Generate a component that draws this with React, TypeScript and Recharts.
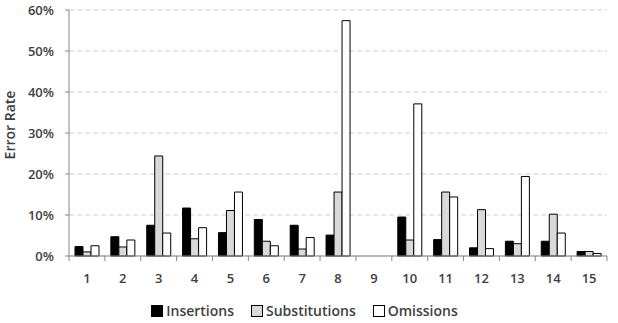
import { Bar, BarChart, CartesianGrid, Legend, XAxis, YAxis, Label } from "recharts"

const categories = ["1", "2", "3", "4", "5", "6", "7", "8", "9", "10", "11", "12", "13", "14", "15"]
const insertions = [2.3, 4.7, 7.5, 11.7, 5.7, 8.9, 7.5, 5.1, 0, 9.5, 4.0, 2.0, 3.6, 3.6, 1.1]
const substitutions = [1.0, 2.2, 24.4, 4.2, 11.1, 3.6, 1.7, 15.6, 0, 3.9, 15.6, 11.3, 3.0, 10.2, 1.1]
const omissions = [2.5, 3.9, 5.6, 6.9, 15.6, 2.5, 4.5, 57.4, 0, 37.1, 14.4, 1.8, 19.4, 5.6, 0.6]
const yTicks = [0, 10, 20, 30, 40, 50, 60]

const data = categories.map((name, i) => ({
  name,
  Insertions: insertions[i],
  Substitutions: substitutions[i],
  Omissions: omissions[i],
}))

const W = 618
const H = 323
const LEFT = 69
const RIGHT = 11
const band = (W - LEFT - RIGHT) / categories.length
const font = "'Open Sans', sans-serif"
const textColor = "#404040"
const axisColor = "#868686"

const XTick = (props: any) => {
  const { x, y, payload, index } = props
  const left = x - band / 2
  return (
    <g>
      <line x1={left} x2={left} y1={y} y2={y + 5} stroke={axisColor} />
      {index === categories.length - 1 && (
        <line x1={x + band / 2} x2={x + band / 2} y1={y} y2={y + 5} stroke={axisColor} />
      )}
      <text x={x} y={y + 27} textAnchor="middle" fontSize={13} fontWeight={600} fill={textColor} fontFamily={font}>
        {payload.value}
      </text>
    </g>
  )
}

const LegendContent = (props: any) => {
  const items = [
    { label: "Insertions", fill: "#000000" },
    { label: "Substitutions", fill: "#d9d9d9" },
    { label: "Omissions", fill: "#ffffff" },
  ]
  return (
    <div style={{ display: "flex", justifyContent: "center", gap: 17, fontFamily: font, fontSize: 14, color: textColor, fontWeight: 600, paddingLeft: 2 }}>
      {items.map((it) => (
        <div key={it.label} style={{ display: "flex", alignItems: "center" }}>
          <span style={{ width: 10, height: 10, background: it.fill, border: "1px solid #000", marginRight: 3, display: "inline-block" }} />
          <span>{it.label}</span>
        </div>
      ))}
    </div>
  )
}

export default function App() {
  return (
    <div style={{ width: W, height: H, background: "#fff" }}>
      <style>{"body{margin:0}"}</style>
      <BarChart width={W} height={H} data={data} margin={{ top: 10, right: RIGHT, left: 0, bottom: 0 }} barGap={0} barCategoryGap="16.7%">
        <CartesianGrid vertical={false} stroke="#cfcfcf" strokeDasharray="5 3" />
        <XAxis dataKey="name" stroke={axisColor} height={45} tickSize={0} tickMargin={0} tick={<XTick />} interval={0} />
        <YAxis
          width={LEFT}
          domain={[0, 60]}
          ticks={yTicks}
          stroke={axisColor}
          tickSize={4}
          tickMargin={11}
          tickFormatter={(v) => `${v}%`}
          tick={{ fontSize: 13, fontWeight: 600, fill: textColor, fontFamily: font }}
        >
          <Label
            content={(p: any) => {
              const cy = p.viewBox.y + p.viewBox.height / 2 - 8
              return (
                <text x={15} y={cy} transform={`rotate(-90 15 ${cy})`} textAnchor="middle" fontSize={14} fontWeight={600} fill={textColor} fontFamily={font}>
                  Error Rate
                </text>
              )
            }}
          />
        </YAxis>
        <Legend verticalAlign="bottom" height={22} content={<LegendContent />} />
        <Bar dataKey="Insertions" fill="#000000" stroke="#000" strokeWidth={1} isAnimationActive={false} />
        <Bar dataKey="Substitutions" fill="#d9d9d9" stroke="#000" strokeWidth={1} isAnimationActive={false} />
        <Bar dataKey="Omissions" fill="#ffffff" stroke="#000" strokeWidth={1} isAnimationActive={false} />
      </BarChart>
    </div>
  )
}
